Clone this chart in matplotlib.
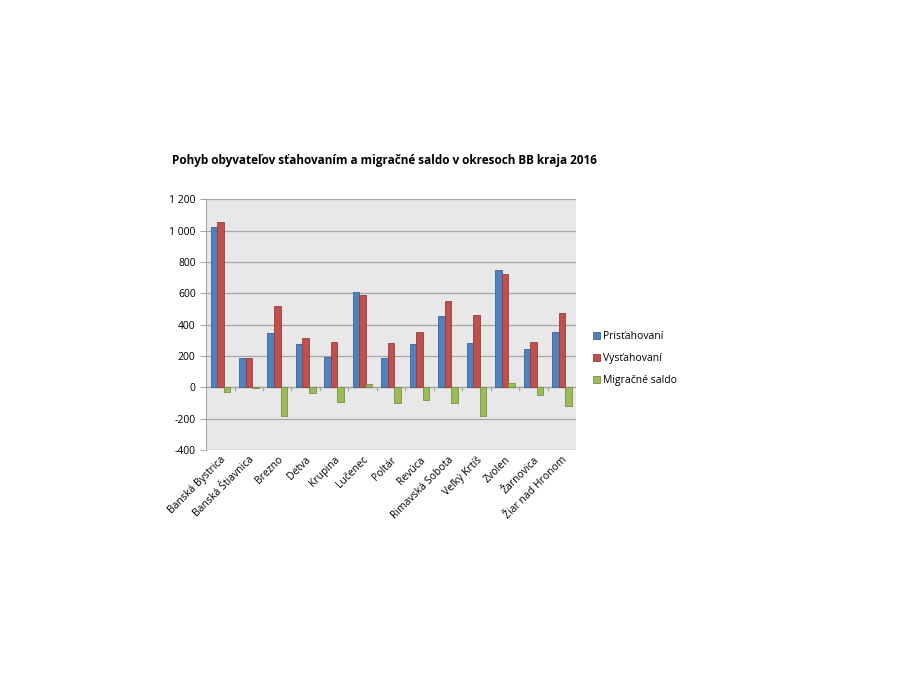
import matplotlib.pyplot as plt
import numpy as np
from matplotlib.ticker import FuncFormatter

plt.rcParams['font.family'] = ['Open Sans', 'DejaVu Sans']

districts = ["Banská Bystrica", "Banská Štiavnica", "Brezno", "Detva", "Krupina",
             "Lučenec", "Poltár", "Revúca", "Rimavská Sobota", "Veľký Krtíš",
             "Zvolen", "Žarnovica", "Žiar nad Hronom"]
prist = [1021, 185, 344, 280, 197, 609, 186, 274, 453, 284, 750, 243, 356]
vyst = [1053, 187, 520, 316, 291, 586, 284, 356, 552, 464, 720, 288, 476]
saldo = [-32, -4, -180, -38, -93, 23, -99, -82, -99, -179, 30, -50, -120]

series = [("Prisťahovaní", prist, "#4f81bd", "#3a6597"),
          ("Vysťahovaní", vyst, "#c0504d", "#943c3a"),
          ("Migračné saldo", saldo, "#9bbb59", "#76913f")]

fig = plt.figure(figsize=(9, 6.75), dpi=100)
ax = fig.add_axes([0.229, 0.333, 0.411, 0.372])
ax.set_facecolor("#e8e8e8")

x = np.arange(len(districts))
w = 0.23
for i, (name, vals, col, edge) in enumerate(series):
    ax.bar(x + (i - 1) * w, vals, w, color=col, edgecolor=edge, linewidth=0.6,
           label=name, zorder=3)

ax.set_xlim(-0.5, len(districts) - 0.5)
ax.set_ylim(-400, 1200)
ax.set_yticks(range(-400, 1201, 200))
ax.yaxis.set_major_formatter(FuncFormatter(lambda v, p: f"{int(v):,}".replace(",", " ")))
ax.grid(axis="y", color="#a6a6a6", linewidth=0.9, zorder=0)
ax.axhline(0, color="#a6a6a6", linewidth=0.9, zorder=2)

for s in ["top", "right", "bottom"]:
    ax.spines[s].set_visible(False)
ax.spines["left"].set_color("#a6a6a6")

ax.set_xticks(x)
ax.set_xticklabels(districts, rotation=45, ha="right", rotation_mode="anchor", fontsize=7.5)
ax.tick_params(axis="x", length=0, pad=3)
ax.tick_params(axis="y", labelsize=7.5, color="#a6a6a6", length=4)
# category boundary ticks on the zero line
for b in np.arange(0.5, len(districts) - 0.5, 1):
    ax.plot([b, b], [0, -18], color="#a6a6a6", linewidth=0.9, zorder=2)

fig.text(0.427, 0.762, "Pohyb obyvateľov sťahovaním a migračné saldo v okresoch BB kraja 2016",
         ha="center", va="center", fontsize=8.5, fontweight="bold")

ax.legend(loc="center left", bbox_to_anchor=(1.02, 0.365), frameon=False, fontsize=7.5,
          handlelength=0.7, handleheight=0.7, handletextpad=0.3, labelspacing=1.05)

fig.savefig("out.png", dpi=100)
